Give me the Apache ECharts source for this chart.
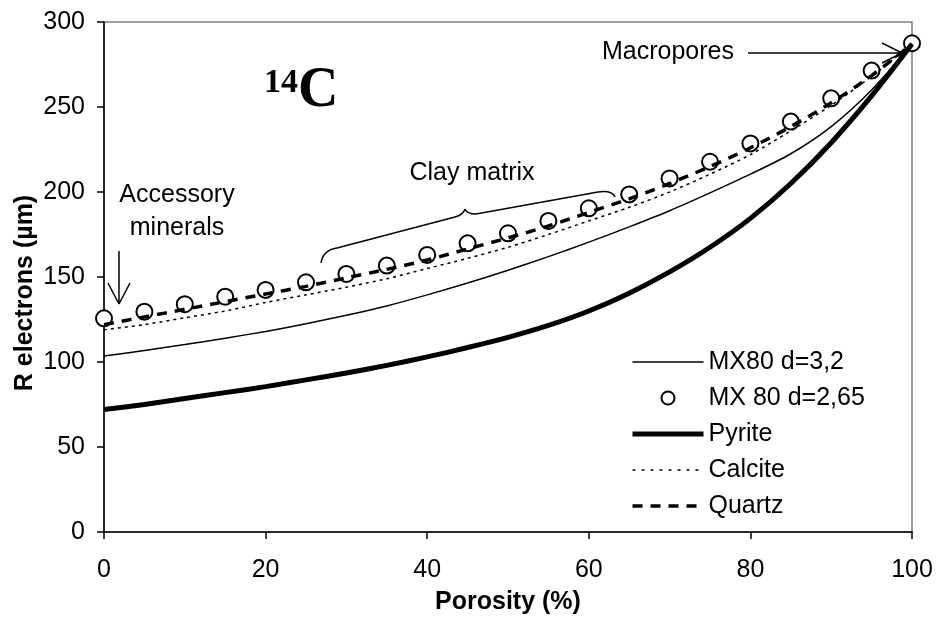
<!DOCTYPE html>
<html>
<head>
<meta charset="utf-8">
<script src="https://cdn.jsdelivr.net/npm/echarts@6/dist/echarts.min.js"></script>
<style>
  html, body { margin: 0; padding: 0; background: #fff; }
  #chart { width: 937px; height: 621px; }
</style>
</head>
<body>
<div id="chart"></div>
<script>
// porosity (%) sampled every 5
const porosity = [0, 5, 10, 15, 20, 25, 30, 35, 40, 45, 50, 55, 60, 65, 70, 75, 80, 85, 90, 95, 100]

// R electrons (µm)
const mx80d32 = [103.5, 106.8, 110.3, 114, 118, 122.5, 127.5, 133, 139.5, 146.5, 154, 162, 170.5, 179.5, 189, 199.5, 210.5, 222.5, 238.5, 260, 287]
const mx80d265 = [125.7, 129.6, 134, 138.4, 142.4, 146.9, 151.8, 156.7, 163, 169.8, 175.7, 183, 190.4, 198.6, 208, 217.8, 228.6, 241.4, 255.1, 271.4, 287.5]
const pyrite = [72, 75, 78.5, 82, 85.5, 89.5, 93.5, 98, 103, 108.5, 114.5, 121.5, 130, 140.5, 153, 167.5, 184.5, 205, 229, 256.5, 287]
const calcite = [119, 122, 126, 130, 135, 139.5, 144, 149, 155, 161, 167.5, 175, 183, 191, 200, 210.5, 222, 236, 251, 268, 287]
const quartz = [122, 126.5, 131, 135.5, 140, 144.5, 149.5, 154.5, 160, 166.5, 173, 180, 188, 196, 205, 215, 226, 238.5, 252.5, 268.5, 287]

const seriesNames = ['MX80 d=3,2', 'MX 80 d=2,65', 'Pyrite', 'Calcite', 'Quartz']

const xTicks = [0, 20, 40, 60, 80, 100]
const yTicks = [0, 50, 100, 150, 200, 250, 300]

const font = 'Liberation Sans, Arial, sans-serif'

function pairs(ys) {
  return porosity.map((x, i) => [x, ys[i]])
}

const ink = { stroke: '#000', lineWidth: 1.5, fill: null }

function seg(x1, y1, x2, y2) {
  return { type: 'line', shape: { x1: x1, y1: y1, x2: x2, y2: y2 }, style: ink }
}
function curve(x1, y1, cx, cy, x2, y2) {
  return { type: 'bezierCurve', shape: { x1: x1, y1: y1, cpx1: cx, cpy1: cy, x2: x2, y2: y2 }, style: ink }
}

// legend entries: hide the symbol dot on line entries, keep line widths
const noDot = { opacity: 0 }
const legendData = [
  { name: seriesNames[0], itemStyle: noDot, lineStyle: { width: 1.5 } },
  { name: seriesNames[1] },
  { name: seriesNames[2], itemStyle: noDot, lineStyle: { width: 5 } },
  { name: seriesNames[3], itemStyle: noDot, lineStyle: { width: 1.5, type: [3, 6] } },
  { name: seriesNames[4], itemStyle: noDot, lineStyle: { width: 3.5, type: [10, 8] } }
]

const chart = echarts.init(document.getElementById('chart'), null, { renderer: 'canvas' })

chart.setOption({
  animation: false,
  backgroundColor: '#fff',
  grid: {
    left: 104,
    right: 25,
    top: 22,
    bottom: 89,
    show: true,
    borderColor: '#808080',
    borderWidth: 1.5
  },
  legend: {
    orient: 'vertical',
    left: 625,
    top: 344,
    itemWidth: 71,
    itemHeight: 13,
    itemGap: 10,
    data: legendData,
    textStyle: {
      fontFamily: font,
      fontSize: 25,
      lineHeight: 26,
      color: '#000'
    }
  },
  xAxis: {
    type: 'value',
    min: xTicks[0],
    max: xTicks[xTicks.length - 1],
    interval: 20,
    name: 'Porosity (%)',
    nameLocation: 'middle',
    nameGap: 58,
    nameTextStyle: { fontFamily: font, fontSize: 25, fontWeight: 'bold', color: '#000' },
    axisLine: { lineStyle: { color: '#000', width: 1.5 } },
    axisTick: { inside: false, length: 7, lineStyle: { color: '#000', width: 1.5 } },
    axisLabel: { margin: 26, fontFamily: font, fontSize: 25, color: '#000' },
    splitLine: { show: false }
  },
  yAxis: {
    type: 'value',
    min: yTicks[0],
    max: yTicks[yTicks.length - 1],
    interval: 50,
    axisLine: { show: true, lineStyle: { color: '#000', width: 1.5 } },
    axisTick: { show: true, inside: false, length: 7, lineStyle: { color: '#000', width: 1.5 } },
    axisLabel: { margin: 19, fontFamily: font, fontSize: 25, color: '#000' },
    splitLine: { show: false }
  },
  series: [
    {
      name: seriesNames[0],
      type: 'line',
      data: pairs(mx80d32),
      smooth: 0.3,
      symbol: 'none',
      color: '#000',
      lineStyle: { color: '#000', width: 1.5 }
    },
    {
      name: seriesNames[1],
      type: 'scatter',
      data: pairs(mx80d265),
      symbol: 'emptyCircle',
      symbolSize: 16,
      itemStyle: { color: '#000', borderColor: '#000', borderWidth: 1.6, opacity: 1 }
    },
    {
      name: seriesNames[2],
      type: 'line',
      data: pairs(pyrite),
      smooth: 0.3,
      symbol: 'none',
      color: '#000',
      lineStyle: { color: '#000', width: 5 }
    },
    {
      name: seriesNames[3],
      type: 'line',
      data: pairs(calcite),
      smooth: 0.3,
      symbol: 'none',
      color: '#000',
      lineStyle: { color: '#000', width: 1.5, type: [3, 4] }
    },
    {
      name: seriesNames[4],
      type: 'line',
      data: pairs(quartz),
      smooth: 0.3,
      symbol: 'none',
      color: '#000',
      lineStyle: { color: '#000', width: 3.5, type: [10, 8] }
    }
  ],
  graphic: [
    // y axis title
    {
      type: 'text',
      x: 25,
      y: 293,
      rotation: Math.PI / 2,
      style: {
        text: 'R electrons (µm)',
        font: 'bold 25px ' + font,
        fill: '#000',
        align: 'center',
        verticalAlign: 'middle'
      }
    },
    // 14C label
    {
      type: 'text',
      x: 264,
      y: 83,
      style: {
        text: '14',
        font: 'bold 34px Liberation Serif, Times New Roman, serif',
        fill: '#000',
        align: 'left',
        verticalAlign: 'middle'
      }
    },
    {
      type: 'text',
      x: 298,
      y: 92,
      style: {
        text: 'C',
        font: 'bold 56px Liberation Serif, Times New Roman, serif',
        fill: '#000',
        align: 'left',
        verticalAlign: 'middle'
      }
    },
    // accessory minerals
    {
      type: 'text',
      x: 177,
      y: 212,
      style: {
        text: 'Accessory\nminerals',
        font: '25px ' + font,
        lineHeight: 33,
        fill: '#000',
        align: 'center',
        verticalAlign: 'middle'
      }
    },
    seg(119, 251, 119, 304),
    seg(108, 283, 119, 304),
    seg(130, 283, 119, 304),
    // clay matrix
    {
      type: 'text',
      x: 472,
      y: 173,
      style: {
        text: 'Clay matrix',
        font: '25px ' + font,
        fill: '#000',
        align: 'center',
        verticalAlign: 'middle'
      }
    },
    curve(321, 263, 323, 250, 337, 248),
    seg(337, 248, 455, 217),
    curve(455, 217, 463, 215, 465, 209),
    curve(465, 209, 467, 214, 476, 214),
    seg(476, 214, 598, 192),
    curve(598, 192, 612, 190, 615, 197),
    // macropores
    {
      type: 'text',
      x: 602,
      y: 52,
      style: {
        text: 'Macropores',
        font: '25px ' + font,
        fill: '#000',
        align: 'left',
        verticalAlign: 'middle'
      }
    },
    seg(748, 53, 902, 53),
    seg(882, 43, 902, 53),
    seg(882, 63, 902, 53)
  ]
})
</script>
</body>
</html>
